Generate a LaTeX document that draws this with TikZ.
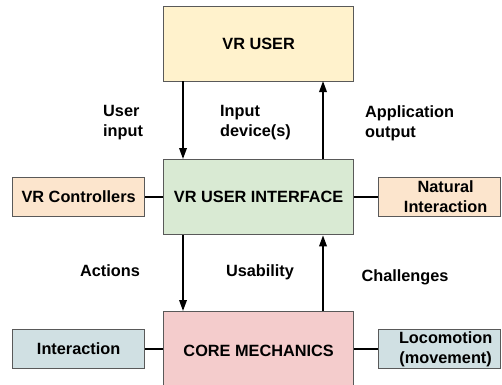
\documentclass[tikz,border=0pt]{standalone}
\usepackage{fontspec}
\setmainfont{Liberation Sans}
\usetikzlibrary{arrows.meta}
\definecolor{userfill}{HTML}{FFF2CC}
\definecolor{uifill}{HTML}{D9EAD3}
\definecolor{corefill}{HTML}{F4CCCC}
\definecolor{orangefill}{HTML}{FCE5CD}
\definecolor{bluefill}{HTML}{D0E0E3}
\definecolor{edge}{HTML}{595959}
\tikzset{
  box/.style={draw=edge, line width=1.3pt, anchor=north west, inner sep=0pt},
  txt/.style={font=\fontsize{16.3}{20}\selectfont\bfseries, align=left, inner sep=0pt},
  ctxt/.style={font=\fontsize{16.3}{20}\selectfont\bfseries, align=center, inner sep=0pt},
  link/.style={line width=1.8pt, black},
  flow/.style={link, -{Triangle[length=11pt,width=7.5pt]}},
}
\begin{document}
\begin{tikzpicture}[x=1pt,y=-1pt]
\useasboundingbox[fill=white] (0,0) rectangle (502,384);

% main column
\node[box, fill=userfill, minimum width=190pt, minimum height=75pt] (user) at (163,6) {};
\node[ctxt] at (user.center) {VR USER};
\node[box, fill=uifill, minimum width=190pt, minimum height=75pt] (ui) at (163,159) {};
\node[ctxt] at (ui.center) {VR USER INTERFACE};
\node[box, fill=corefill, minimum width=190pt, minimum height=77pt] (core) at (163,311) {};
\node[ctxt] at ([yshift=-0.5pt]core.center) {CORE MECHANICS};

% side boxes
\node[box, fill=orangefill, minimum width=132pt, minimum height=39pt] (ctrl) at (12,177) {};
\node[ctxt] at (ctrl.center) {VR Controllers};
\node[box, fill=orangefill, minimum width=122pt, minimum height=39pt] (nat) at (378,177) {};
\node[ctxt] at ([xshift=6pt]nat.center) {Natural\\Interaction};
\node[box, fill=bluefill, minimum width=132pt, minimum height=39pt] (inter) at (12,329) {};
\node[ctxt] at (inter.center) {Interaction};
\node[box, fill=bluefill, minimum width=122pt, minimum height=39pt] (loco) at (378,329) {};
\node[ctxt] at ([xshift=6pt]loco.center) {Locomotion\\(movement)};

% side links
\draw[link] (ctrl.east) -- (ui.west |- ctrl.east);
\draw[link] (ui.east |- nat.west) -- (nat.west);
\draw[link] (inter.east) -- (core.west |- inter.east);
\draw[link] (core.east |- loco.west) -- (loco.west);

% flows between main boxes
\coordinate (ua) at (183,81);
\coordinate (ub) at (323,81);
\draw[flow] (ua) -- (ua |- ui.north);
\draw[flow] (ub |- ui.north) -- (ub);
\draw[flow] (ua |- ui.south) -- (ua |- core.north);
\draw[flow] (ub |- core.north) -- (ub |- ui.south);

% flow labels
\node[txt, anchor=west] (l1) at (103,123) {User\\input};
\node[txt, anchor=west] (l2) at (220,123) {Input\\device(s)};
\node[txt, anchor=west] (l3) at (365,123) {Application\\output};
\node[txt] (l4) at (110,271) {Actions};
\node[txt] (l5) at (260,272) {Usability};
\node[txt] (l6) at (405,277) {Challenges};
\end{tikzpicture}
\end{document}
